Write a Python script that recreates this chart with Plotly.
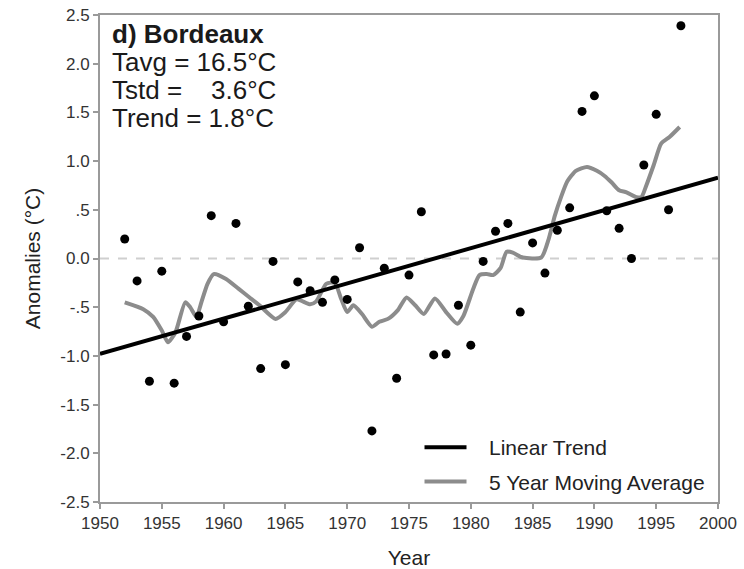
import plotly.graph_objects as go

# ---- data ----
years = list(range(1952, 1998))
anomalies = [0.20, -0.23, -1.26, -0.13, -1.28, -0.80, -0.59, 0.44, -0.65, 0.36,
             -0.49, -1.13, -0.03, -1.09, -0.24, -0.33, -0.45, -0.22, -0.42, 0.11,
             -1.77, -0.10, -1.23, -0.17, 0.48, -0.99, -0.98, -0.48, -0.89, -0.03,
             0.28, 0.36, -0.55, 0.16, -0.15, 0.29, 0.52, 1.51, 1.67, 0.49,
             0.31, 0.00, 0.96, 1.48, 0.50, 2.39]

trend_years = [1950, 2000]
trend_values = [-0.98, 0.83]

ma_years = [1952.0, 1953.5, 1954.3, 1955.0, 1955.5, 1956.1, 1956.9, 1957.3, 1957.8,
            1958.2, 1958.7, 1959.2, 1960.2, 1961.2, 1962.1, 1962.9, 1964.2, 1965.0,
            1965.9, 1967.0, 1967.5, 1968.3, 1969.0, 1969.5, 1970.0, 1970.5, 1971.2,
            1972.0, 1972.6, 1973.3, 1974.1, 1974.8, 1975.5, 1976.2, 1977.1, 1978.0,
            1978.9, 1979.4, 1980.2, 1980.7, 1981.3, 1981.8, 1982.4, 1982.9, 1983.4,
            1984.2, 1985.7, 1986.3, 1986.8, 1987.3, 1987.8, 1988.5, 1989.4, 1990.2,
            1990.8, 1991.4, 1992.0, 1992.6, 1993.4, 1993.8, 1994.2, 1994.8, 1995.4,
            1996.1, 1996.9]
ma_values = [-0.45, -0.52, -0.60, -0.74, -0.86, -0.76, -0.45, -0.50, -0.60,
             -0.45, -0.26, -0.16, -0.21, -0.31, -0.40, -0.48, -0.62, -0.55,
             -0.42, -0.47, -0.44, -0.26, -0.25, -0.41, -0.55, -0.48, -0.57,
             -0.70, -0.65, -0.62, -0.53, -0.40, -0.48, -0.57, -0.41, -0.55,
             -0.67, -0.59, -0.31, -0.17, -0.16, -0.17, -0.10, 0.07, 0.06,
             0.01, 0.01, 0.20, 0.44, 0.63, 0.79, 0.90, 0.94, 0.90,
             0.85, 0.78, 0.70, 0.68, 0.63, 0.63, 0.75, 0.96, 1.18,
             1.25, 1.35]

y_tickvals = [-2.5, -2.0, -1.5, -1.0, -0.5, 0.0, 0.5, 1.0, 1.5, 2.0, 2.5]
y_ticktext = ["-2.5", "-2.0", "-1.5", "-1.0", "-.5", "0.0", ".5", "1.0", "1.5", "2.0", "2.5"]
x_tickvals = [1950, 1955, 1960, 1965, 1970, 1975, 1980, 1985, 1990, 1995, 2000]

info_lines = ["<b>d) Bordeaux</b>", "Tavg = 16.5°C", "Tstd =" + "\u00a0" * 4 + "3.6°C", "Trend = 1.8°C"]

FONT = "Liberation Sans, Arial, sans-serif"
AXIS_GRAY = "#9a9a9a"
PAD = "\u00a0" * 3

fig = go.Figure()

fig.add_trace(go.Scatter(
    x=ma_years, y=ma_values, mode="lines", name=PAD + "5 Year Moving Average",
    line=dict(color="#8c8c8c", width=4, shape="spline", smoothing=0.6),
    legendrank=2, legendgroup="b",
))
fig.add_trace(go.Scatter(
    x=trend_years, y=trend_values, mode="lines", name=PAD + "Linear Trend",
    line=dict(color="black", width=4),
    legendrank=1, legendgroup="a",
))
fig.add_trace(go.Scatter(
    x=years, y=anomalies, mode="markers", showlegend=False,
    marker=dict(color="black", size=9),
))

fig.add_hline(y=0, line=dict(color="#cfcfcf", width=2, dash="dash"), layer="below")

info_y = [0.961, 0.9035, 0.846, 0.7885]
for txt, yy in zip(info_lines, info_y):
    fig.add_annotation(
        text=txt, xref="paper", yref="paper", x=0.016, y=yy,
        xanchor="left", yanchor="middle", showarrow=False,
        font=dict(family=FONT, size=26, color="#1a1a1a"),
    )

fig.update_layout(
    width=744, height=569,
    margin=dict(l=100, r=26, t=15, b=67),
    paper_bgcolor="white", plot_bgcolor="white",
    font=dict(family=FONT, color="#333333"),
    showlegend=True,
    legend=dict(
        x=0.517, y=0.154, xanchor="left", yanchor="top",
        bgcolor="rgba(0,0,0,0)", borderwidth=0,
        font=dict(family=FONT, size=21, color="#222222"),
        traceorder="grouped", tracegroupgap=4, itemwidth=42,
    ),
    xaxis=dict(
        range=[1950, 2000], tickvals=x_tickvals, automargin=False,
        showline=True, linecolor=AXIS_GRAY, linewidth=2, mirror=True,
        ticks="outside", ticklen=5, tickwidth=1.5, tickcolor=AXIS_GRAY,
        showgrid=False, zeroline=False,
        tickfont=dict(family=FONT, size=17, color="#333333"),
        title=dict(text="Year", font=dict(family=FONT, size=21, color="#222222"), standoff=23),
    ),
    yaxis=dict(
        range=[-2.5, 2.5], tickvals=y_tickvals, ticktext=y_ticktext, automargin=False,
        showline=True, linecolor=AXIS_GRAY, linewidth=2, mirror=True,
        ticks="outside", ticklen=5, tickwidth=1.5, tickcolor=AXIS_GRAY,
        showgrid=False, zeroline=False,
        tickfont=dict(family=FONT, size=17, color="#333333"),
        title=dict(text="Anomalies (°C)", font=dict(family=FONT, size=21, color="#222222"), standoff=14),
    ),
)

fig.write_html("out.html")
